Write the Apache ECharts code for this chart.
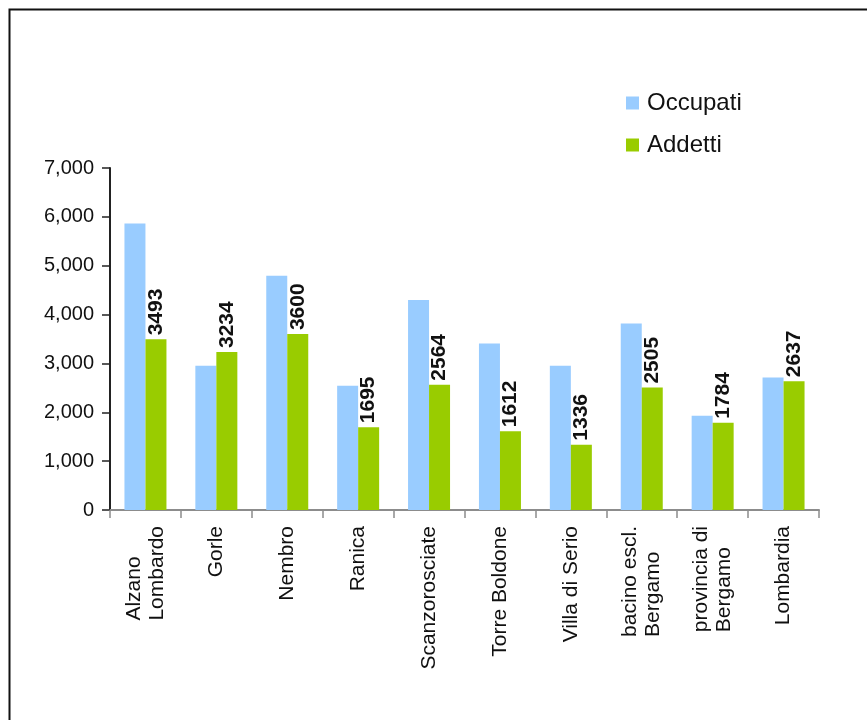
<!DOCTYPE html>
<html>
<head>
<meta charset="utf-8">
<title>Occupati e Addetti</title>
<script src="https://cdn.jsdelivr.net/npm/echarts@6/dist/echarts.min.js"></script>
<style>
  html, body { margin: 0; padding: 0; background: #fff; }
  #chart { width: 867px; height: 720px; }
</style>
</head>
<body>
<div id="chart"></div>
<script>
// Territories compared
const categories = [
  'Alzano\nLombardo', 'Gorle', 'Nembro', 'Ranica', 'Scanzorosciate',
  'Torre Boldone', 'Villa di Serio', 'bacino escl.\nBergamo',
  'provincia di\nBergamo', 'Lombardia'
];
// Employed residents
const occupati = [5865, 2955, 4795, 2545, 4300, 3410, 2955, 3815, 1930, 2710];
// Workers employed in local units
const addetti = [3493, 3234, 3600, 1695, 2564, 1612, 1336, 2505, 1784, 2637];
// Value axis ticks
const yTicks = [0, 1000, 2000, 3000, 4000, 5000, 6000, 7000];

const FONT = 'Liberation Sans, Arial, sans-serif';
const chart = echarts.init(document.getElementById('chart'), null, { renderer: 'canvas' });

chart.setOption({
  animation: false,
  backgroundColor: '#fff',
  graphic: [{
    type: 'rect',
    left: 7, top: 7,
    shape: { x: 0, y: 0, width: 900, height: 800 },
    style: { fill: 'none', stroke: '#111', lineWidth: 2 },
    silent: true
  }],
  legend: {
    orient: 'vertical',
    left: 626, top: 91,
    padding: 0,
    itemWidth: 13, itemHeight: 13,
    itemGap: 18,
    icon: 'rect',
    textStyle: { fontFamily: FONT, fontSize: 24, color: '#111', padding: [0, 0, 0, 3] },
    data: ['Occupati', 'Addetti']
  },
  grid: { left: 110, right: 48, top: 168, bottom: 210, containLabel: false },
  xAxis: {
    type: 'category',
    data: categories,
    axisLine: { lineStyle: { color: '#8c8c8c', width: 2 } },
    axisTick: { show: true, length: 8, lineStyle: { color: '#8c8c8c', width: 1.5 } },
    axisLabel: {
      rotate: 90,
      margin: 16,
      interval: 0,
      color: '#111',
      fontFamily: FONT,
      fontSize: 21,
      formatter: v => v.split('\n').map(s => '{l|' + s + '}').join('\n'),
      rich: { l: { align: 'left', fontFamily: FONT, fontSize: 21, lineHeight: 23, color: '#111' } }
    }
  },
  yAxis: {
    type: 'value',
    min: yTicks[0],
    max: yTicks[yTicks.length - 1],
    interval: 1000,
    splitLine: { show: false },
    axisLine: { show: true, lineStyle: { color: '#222', width: 2 } },
    axisTick: { show: true, length: 8, lineStyle: { color: '#222', width: 1.5 } },
    axisLabel: {
      margin: 16,
      color: '#111',
      fontFamily: FONT,
      fontSize: 20,
      formatter: v => v.toLocaleString('en-US')
    }
  },
  series: [
    {
      name: 'Occupati',
      type: 'bar',
      data: occupati,
      barWidth: 21,
      barGap: '0%',
      itemStyle: { color: '#99ccff' }
    },
    {
      name: 'Addetti',
      type: 'bar',
      data: addetti,
      barWidth: 21,
      barGap: '0%',
      itemStyle: { color: '#99cc00' },
      label: {
        show: true,
        position: 'top',
        rotate: 90,
        align: 'left',
        verticalAlign: 'middle',
        distance: 4,
        fontFamily: FONT,
        fontSize: 21,
        fontWeight: 'bold',
        color: '#111'
      }
    }
  ]
});
</script>
</body>
</html>
